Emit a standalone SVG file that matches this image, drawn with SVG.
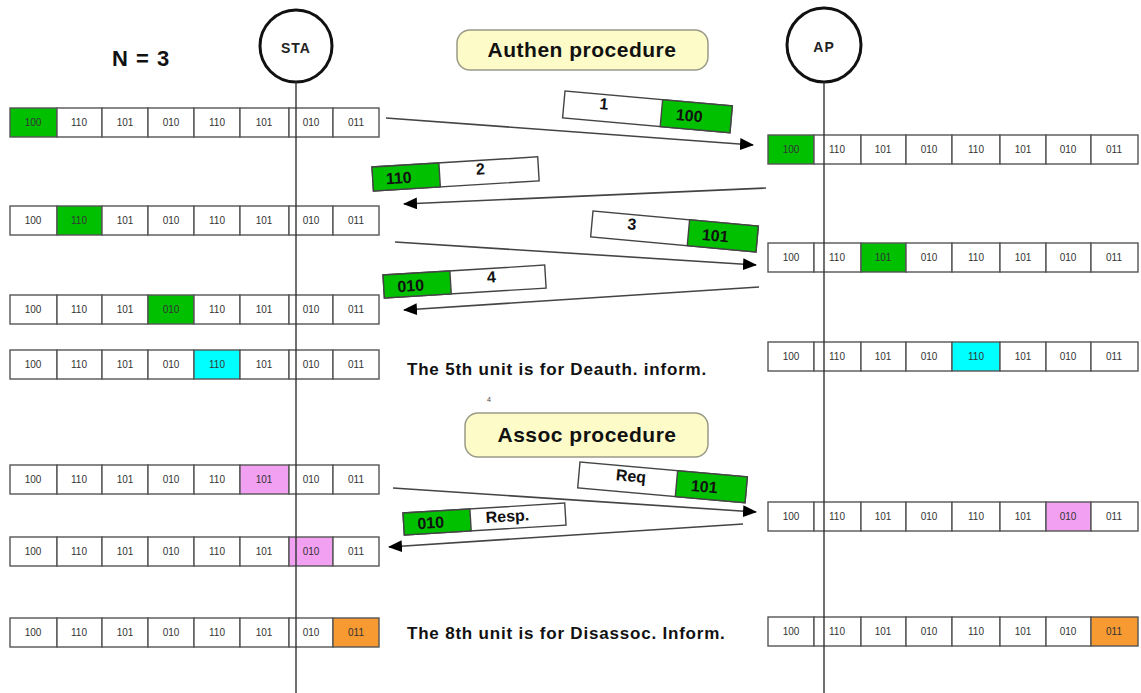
<svg xmlns="http://www.w3.org/2000/svg" width="1141" height="693" viewBox="0 0 1141 693">
  <defs>
    <marker id="arrow" viewBox="0 0 14 12" refX="13" refY="6" markerWidth="14" markerHeight="12" markerUnits="userSpaceOnUse" orient="auto">
      <path d="M0,0 L14,6 L0,12 Z" fill="#000"/>
    </marker>
    <style>
      .bg { fill: #ffffff; }
      .cell { fill: #ffffff; stroke: #555; stroke-width: 1.4; }
      .msg { fill: #fff; stroke: #444; stroke-width: 1.4; }
      .cell.g, .msg.g { fill: #00c000; }
      .cell.c { fill: #00ffff; }
      .cell.p { fill: #f2a0f2; }
      .cell.o { fill: #f89a32; }
      .ct { font-family: "Liberation Sans", Arial, sans-serif; font-size: 10px; fill: #333; text-anchor: middle; }
      .life { stroke: #333; stroke-width: 1.4; fill: none; }
      .ent { fill: #fff; stroke: #111; stroke-width: 3; }
      .entt { font-family: "Liberation Sans", Arial, sans-serif; font-size: 14px; font-weight: bold; letter-spacing: 1px; fill: #222; text-anchor: middle; }
      .pill { fill: #fdfbc8; stroke: #9a9a88; stroke-width: 1.5; }
      .pillt { font-family: "Liberation Sans", Arial, sans-serif; font-size: 21px; font-weight: bold; letter-spacing: 0.5px; fill: #111; text-anchor: middle; }
      .msgt { font-family: "Liberation Sans", Arial, sans-serif; font-size: 16px; font-weight: bold; fill: #111; text-anchor: middle; }
      .note { font-family: "Liberation Sans", Arial, sans-serif; font-size: 17px; font-weight: bold; letter-spacing: 0.8px; fill: #111; }
      .conn { stroke: #444; stroke-width: 1.6; fill: none; marker-end: url(#arrow); }
    </style>
  </defs>

  <rect class="bg" x="0" y="0" width="1141" height="693"/>

  <!-- station and access point -->
  <g id="sta">
    <circle class="ent" cx="296" cy="46" r="36"/>
    <text class="entt" x="296" y="53">STA</text>
  </g>
  <g id="ap">
    <circle class="ent" cx="824" cy="45" r="37"/>
    <text class="entt" x="824" y="52">AP</text>
  </g>

  <g id="n-label">
    <text x="112" y="66" font-family="Liberation Sans, Arial, sans-serif" font-size="22" font-weight="bold" letter-spacing="1" fill="#111">N = 3</text>
  </g>

  <g id="authen">
    <rect class="pill" x="457" y="30" width="251" height="40" rx="13"/>
    <text class="pillt" x="582" y="57">Authen procedure</text>
  </g>
  <g id="assoc">
    <rect class="pill" x="465" y="413" width="243" height="44" rx="13"/>
    <text class="pillt" x="587" y="442">Assoc procedure</text>
  </g>
  <text x="487" y="402" font-family="Liberation Sans, Arial, sans-serif" font-size="7" fill="#444">4</text>

  <!-- STA side sequence rows: cell edges x = 10,57,102,148,194,240,289,333,379 -->
  <g id="sta-row1" transform="translate(0,108)">
    <rect class="cell g" x="10" y="0" width="47" height="29"/>
    <rect class="cell" x="57" y="0" width="45" height="29"/>
    <rect class="cell" x="102" y="0" width="46" height="29"/>
    <rect class="cell" x="148" y="0" width="46" height="29"/>
    <rect class="cell" x="194" y="0" width="46" height="29"/>
    <rect class="cell" x="240" y="0" width="49" height="29"/>
    <rect class="cell" x="289" y="0" width="44" height="29"/>
    <rect class="cell" x="333" y="0" width="46" height="29"/>
    <text class="ct" x="33" y="18">100</text><text class="ct" x="79" y="18">110</text><text class="ct" x="125" y="18">101</text><text class="ct" x="171" y="18">010</text><text class="ct" x="217" y="18">110</text><text class="ct" x="264" y="18">101</text><text class="ct" x="311" y="18">010</text><text class="ct" x="356" y="18">011</text>
  </g>
  <g id="sta-row2" transform="translate(0,206)">
    <rect class="cell" x="10" y="0" width="47" height="29"/>
    <rect class="cell g" x="57" y="0" width="45" height="29"/>
    <rect class="cell" x="102" y="0" width="46" height="29"/>
    <rect class="cell" x="148" y="0" width="46" height="29"/>
    <rect class="cell" x="194" y="0" width="46" height="29"/>
    <rect class="cell" x="240" y="0" width="49" height="29"/>
    <rect class="cell" x="289" y="0" width="44" height="29"/>
    <rect class="cell" x="333" y="0" width="46" height="29"/>
    <text class="ct" x="33" y="18">100</text><text class="ct" x="79" y="18">110</text><text class="ct" x="125" y="18">101</text><text class="ct" x="171" y="18">010</text><text class="ct" x="217" y="18">110</text><text class="ct" x="264" y="18">101</text><text class="ct" x="311" y="18">010</text><text class="ct" x="356" y="18">011</text>
  </g>
  <g id="sta-row3" transform="translate(0,295)">
    <rect class="cell" x="10" y="0" width="47" height="29"/>
    <rect class="cell" x="57" y="0" width="45" height="29"/>
    <rect class="cell" x="102" y="0" width="46" height="29"/>
    <rect class="cell g" x="148" y="0" width="46" height="29"/>
    <rect class="cell" x="194" y="0" width="46" height="29"/>
    <rect class="cell" x="240" y="0" width="49" height="29"/>
    <rect class="cell" x="289" y="0" width="44" height="29"/>
    <rect class="cell" x="333" y="0" width="46" height="29"/>
    <text class="ct" x="33" y="18">100</text><text class="ct" x="79" y="18">110</text><text class="ct" x="125" y="18">101</text><text class="ct" x="171" y="18">010</text><text class="ct" x="217" y="18">110</text><text class="ct" x="264" y="18">101</text><text class="ct" x="311" y="18">010</text><text class="ct" x="356" y="18">011</text>
  </g>
  <g id="sta-row4" transform="translate(0,350)">
    <rect class="cell" x="10" y="0" width="47" height="29"/>
    <rect class="cell" x="57" y="0" width="45" height="29"/>
    <rect class="cell" x="102" y="0" width="46" height="29"/>
    <rect class="cell" x="148" y="0" width="46" height="29"/>
    <rect class="cell c" x="194" y="0" width="46" height="29"/>
    <rect class="cell" x="240" y="0" width="49" height="29"/>
    <rect class="cell" x="289" y="0" width="44" height="29"/>
    <rect class="cell" x="333" y="0" width="46" height="29"/>
    <text class="ct" x="33" y="18">100</text><text class="ct" x="79" y="18">110</text><text class="ct" x="125" y="18">101</text><text class="ct" x="171" y="18">010</text><text class="ct" x="217" y="18">110</text><text class="ct" x="264" y="18">101</text><text class="ct" x="311" y="18">010</text><text class="ct" x="356" y="18">011</text>
  </g>
  <g id="sta-row5" transform="translate(0,465)">
    <rect class="cell" x="10" y="0" width="47" height="29"/>
    <rect class="cell" x="57" y="0" width="45" height="29"/>
    <rect class="cell" x="102" y="0" width="46" height="29"/>
    <rect class="cell" x="148" y="0" width="46" height="29"/>
    <rect class="cell" x="194" y="0" width="46" height="29"/>
    <rect class="cell p" x="240" y="0" width="49" height="29"/>
    <rect class="cell" x="289" y="0" width="44" height="29"/>
    <rect class="cell" x="333" y="0" width="46" height="29"/>
    <text class="ct" x="33" y="18">100</text><text class="ct" x="79" y="18">110</text><text class="ct" x="125" y="18">101</text><text class="ct" x="171" y="18">010</text><text class="ct" x="217" y="18">110</text><text class="ct" x="264" y="18">101</text><text class="ct" x="311" y="18">010</text><text class="ct" x="356" y="18">011</text>
  </g>
  <g id="sta-row6" transform="translate(0,537)">
    <rect class="cell" x="10" y="0" width="47" height="29"/>
    <rect class="cell" x="57" y="0" width="45" height="29"/>
    <rect class="cell" x="102" y="0" width="46" height="29"/>
    <rect class="cell" x="148" y="0" width="46" height="29"/>
    <rect class="cell" x="194" y="0" width="46" height="29"/>
    <rect class="cell" x="240" y="0" width="49" height="29"/>
    <rect class="cell p" x="289" y="0" width="44" height="29"/>
    <rect class="cell" x="333" y="0" width="46" height="29"/>
    <text class="ct" x="33" y="18">100</text><text class="ct" x="79" y="18">110</text><text class="ct" x="125" y="18">101</text><text class="ct" x="171" y="18">010</text><text class="ct" x="217" y="18">110</text><text class="ct" x="264" y="18">101</text><text class="ct" x="311" y="18">010</text><text class="ct" x="356" y="18">011</text>
  </g>
  <g id="sta-row7" transform="translate(0,618)">
    <rect class="cell" x="10" y="0" width="47" height="29"/>
    <rect class="cell" x="57" y="0" width="45" height="29"/>
    <rect class="cell" x="102" y="0" width="46" height="29"/>
    <rect class="cell" x="148" y="0" width="46" height="29"/>
    <rect class="cell" x="194" y="0" width="46" height="29"/>
    <rect class="cell" x="240" y="0" width="49" height="29"/>
    <rect class="cell" x="289" y="0" width="44" height="29"/>
    <rect class="cell o" x="333" y="0" width="46" height="29"/>
    <text class="ct" x="33" y="18">100</text><text class="ct" x="79" y="18">110</text><text class="ct" x="125" y="18">101</text><text class="ct" x="171" y="18">010</text><text class="ct" x="217" y="18">110</text><text class="ct" x="264" y="18">101</text><text class="ct" x="311" y="18">010</text><text class="ct" x="356" y="18">011</text>
  </g>

  <!-- AP side sequence rows: cell edges x = 768,814,861,906,952,1000,1046,1091,1138 -->
  <g id="ap-row1" transform="translate(0,135)">
    <rect class="cell g" x="768" y="0" width="46" height="29"/>
    <rect class="cell" x="814" y="0" width="47" height="29"/>
    <rect class="cell" x="861" y="0" width="45" height="29"/>
    <rect class="cell" x="906" y="0" width="46" height="29"/>
    <rect class="cell" x="952" y="0" width="48" height="29"/>
    <rect class="cell" x="1000" y="0" width="46" height="29"/>
    <rect class="cell" x="1046" y="0" width="45" height="29"/>
    <rect class="cell" x="1091" y="0" width="47" height="29"/>
    <text class="ct" x="791" y="18">100</text><text class="ct" x="837" y="18">110</text><text class="ct" x="883" y="18">101</text><text class="ct" x="929" y="18">010</text><text class="ct" x="976" y="18">110</text><text class="ct" x="1023" y="18">101</text><text class="ct" x="1068" y="18">010</text><text class="ct" x="1114" y="18">011</text>
  </g>
  <g id="ap-row2" transform="translate(0,243)">
    <rect class="cell" x="768" y="0" width="46" height="29"/>
    <rect class="cell" x="814" y="0" width="47" height="29"/>
    <rect class="cell g" x="861" y="0" width="45" height="29"/>
    <rect class="cell" x="906" y="0" width="46" height="29"/>
    <rect class="cell" x="952" y="0" width="48" height="29"/>
    <rect class="cell" x="1000" y="0" width="46" height="29"/>
    <rect class="cell" x="1046" y="0" width="45" height="29"/>
    <rect class="cell" x="1091" y="0" width="47" height="29"/>
    <text class="ct" x="791" y="18">100</text><text class="ct" x="837" y="18">110</text><text class="ct" x="883" y="18">101</text><text class="ct" x="929" y="18">010</text><text class="ct" x="976" y="18">110</text><text class="ct" x="1023" y="18">101</text><text class="ct" x="1068" y="18">010</text><text class="ct" x="1114" y="18">011</text>
  </g>
  <g id="ap-row3" transform="translate(0,342)">
    <rect class="cell" x="768" y="0" width="46" height="29"/>
    <rect class="cell" x="814" y="0" width="47" height="29"/>
    <rect class="cell" x="861" y="0" width="45" height="29"/>
    <rect class="cell" x="906" y="0" width="46" height="29"/>
    <rect class="cell c" x="952" y="0" width="48" height="29"/>
    <rect class="cell" x="1000" y="0" width="46" height="29"/>
    <rect class="cell" x="1046" y="0" width="45" height="29"/>
    <rect class="cell" x="1091" y="0" width="47" height="29"/>
    <text class="ct" x="791" y="18">100</text><text class="ct" x="837" y="18">110</text><text class="ct" x="883" y="18">101</text><text class="ct" x="929" y="18">010</text><text class="ct" x="976" y="18">110</text><text class="ct" x="1023" y="18">101</text><text class="ct" x="1068" y="18">010</text><text class="ct" x="1114" y="18">011</text>
  </g>
  <g id="ap-row4" transform="translate(0,502)">
    <rect class="cell" x="768" y="0" width="46" height="29"/>
    <rect class="cell" x="814" y="0" width="47" height="29"/>
    <rect class="cell" x="861" y="0" width="45" height="29"/>
    <rect class="cell" x="906" y="0" width="46" height="29"/>
    <rect class="cell" x="952" y="0" width="48" height="29"/>
    <rect class="cell" x="1000" y="0" width="46" height="29"/>
    <rect class="cell p" x="1046" y="0" width="45" height="29"/>
    <rect class="cell" x="1091" y="0" width="47" height="29"/>
    <text class="ct" x="791" y="18">100</text><text class="ct" x="837" y="18">110</text><text class="ct" x="883" y="18">101</text><text class="ct" x="929" y="18">010</text><text class="ct" x="976" y="18">110</text><text class="ct" x="1023" y="18">101</text><text class="ct" x="1068" y="18">010</text><text class="ct" x="1114" y="18">011</text>
  </g>
  <g id="ap-row5" transform="translate(0,617)">
    <rect class="cell" x="768" y="0" width="46" height="29"/>
    <rect class="cell" x="814" y="0" width="47" height="29"/>
    <rect class="cell" x="861" y="0" width="45" height="29"/>
    <rect class="cell" x="906" y="0" width="46" height="29"/>
    <rect class="cell" x="952" y="0" width="48" height="29"/>
    <rect class="cell" x="1000" y="0" width="46" height="29"/>
    <rect class="cell" x="1046" y="0" width="45" height="29"/>
    <rect class="cell o" x="1091" y="0" width="47" height="29"/>
    <text class="ct" x="791" y="18">100</text><text class="ct" x="837" y="18">110</text><text class="ct" x="883" y="18">101</text><text class="ct" x="929" y="18">010</text><text class="ct" x="976" y="18">110</text><text class="ct" x="1023" y="18">101</text><text class="ct" x="1068" y="18">010</text><text class="ct" x="1114" y="18">011</text>
  </g>

  <!-- lifelines, drawn over the rows -->
  <g id="lifelines">
    <line class="life" x1="296" y1="82" x2="296" y2="693"/>
    <line class="life" x1="824" y1="82" x2="824" y2="693"/>
  </g>

  <!-- message arrows -->
  <g id="connectors">
    <line class="conn" x1="386" y1="118" x2="753" y2="145"/>
    <line class="conn" x1="766" y1="188" x2="404" y2="204"/>
    <line class="conn" x1="395" y1="242" x2="756" y2="265"/>
    <line class="conn" x1="759" y1="287" x2="404" y2="310"/>
    <line class="conn" x1="393" y1="488" x2="756" y2="512"/>
    <line class="conn" x1="743" y1="524" x2="389" y2="547"/>
  </g>

  <!-- message frames (tilted along their arrows) -->
  <g id="msg1" transform="translate(565,91) rotate(5.1)">
    <rect class="msg" x="0" y="0" width="168" height="27"/>
    <rect class="msg g" x="98" y="0" width="70" height="27"/>
    <text class="msgt" x="40" y="15">1</text>
    <text class="msgt" x="126" y="19">100</text>
  </g>
  <g id="msg2" transform="translate(372,167) rotate(-3.5)">
    <rect class="msg" x="0" y="0" width="166" height="24"/>
    <rect class="msg g" x="0" y="0" width="67" height="24"/>
    <text class="msgt" x="26" y="18">110</text>
    <text class="msgt" x="108" y="14">2</text>
  </g>
  <g id="msg3" transform="translate(593,211) rotate(5.2)">
    <rect class="msg" x="0" y="0" width="166" height="26"/>
    <rect class="msg g" x="97" y="0" width="69" height="26"/>
    <text class="msgt" x="40" y="15">3</text>
    <text class="msgt" x="124" y="19">101</text>
  </g>
  <g id="msg4" transform="translate(383,275) rotate(-3.5)">
    <rect class="msg" x="0" y="0" width="162" height="23"/>
    <rect class="msg g" x="0" y="0" width="67" height="23"/>
    <text class="msgt" x="27" y="18">010</text>
    <text class="msgt" x="108" y="14">4</text>
  </g>
  <g id="msg-req" transform="translate(580,462) rotate(5.1)">
    <rect class="msg" x="0" y="0" width="168" height="26"/>
    <rect class="msg g" x="98" y="0" width="70" height="26"/>
    <text class="msgt" x="52" y="15">Req</text>
    <text class="msgt" x="126" y="19">101</text>
  </g>
  <g id="msg-resp" transform="translate(403,513) rotate(-3.5)">
    <rect class="msg" x="0" y="0" width="162" height="22"/>
    <rect class="msg g" x="0" y="0" width="67" height="22"/>
    <text class="msgt" x="27" y="17">010</text>
    <text class="msgt" x="104" y="15">Resp.</text>
  </g>

  <!-- notes -->
  <g id="notes">
    <text class="note" x="407" y="375">The 5th unit is for Deauth. inform.</text>
    <text class="note" x="407" y="639">The 8th unit is for Disassoc. Inform.</text>
  </g>
</svg>
